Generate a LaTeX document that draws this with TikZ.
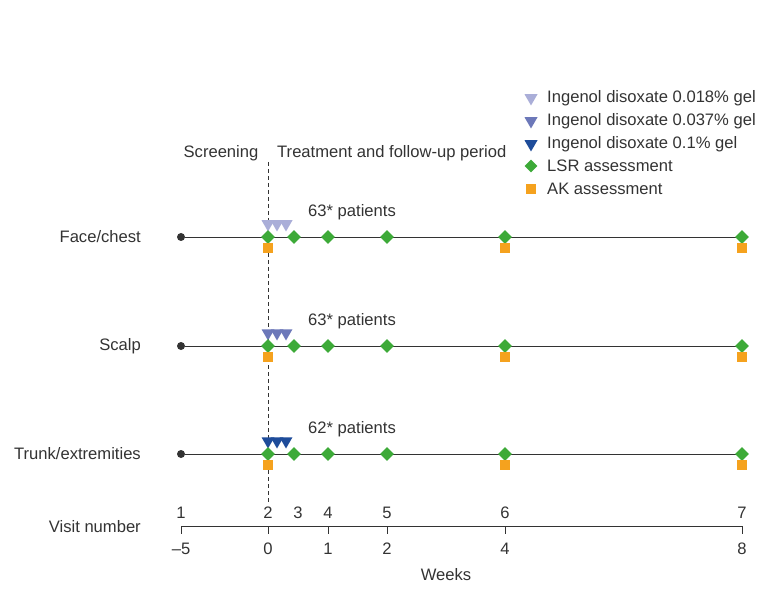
\documentclass[tikz,border=0pt]{standalone}
\usepackage{fontspec}
\setmainfont{Liberation Sans}
\usetikzlibrary{shapes.geometric}
\definecolor{tlight}{HTML}{AAAED8}
\definecolor{tmed}{HTML}{6C78B9}
\definecolor{tdark}{HTML}{1E4C9A}
\definecolor{lsr}{HTML}{3DAA38}
\definecolor{ak}{HTML}{F5A21E}
\definecolor{ln}{HTML}{333333}
\begin{document}
\begin{tikzpicture}[x=1pt,y=-1pt,
  txt/.style={font=\fontsize{16.6}{19}\selectfont, text=ln, inner sep=0pt},
  tri/.style={regular polygon, regular polygon sides=3, shape border rotate=180, minimum size=15pt, inner sep=0pt},
  dia/.style={diamond, fill=lsr, minimum size=14pt, inner sep=0pt},
  sq/.style={rectangle, fill=ak, minimum size=10pt, inner sep=0pt},
  dot/.style={circle, fill=ln, minimum size=8pt, inner sep=0pt},
  rowline/.style={draw=ln, line width=0.8pt},
  axisline/.style={draw=ln, line width=0.8pt}]
\useasboundingbox (0,0) rectangle (767,601);
% legend
\node[tri, fill=tlight] (l1) at (531,98) {};
\node[tri, fill=tmed] (l2) at (531,121) {};
\node[tri, fill=tdark] (l3) at (531,144) {};
\node[dia, minimum size=13pt] (l4) at (531,166) {};
\node[sq] (l5) at (531,189) {};
\node[txt, anchor=west] (t1) at (547,98) {Ingenol disoxate 0.018\% gel};
\node[txt, anchor=west] (t2) at (547,121) {Ingenol disoxate 0.037\% gel};
\node[txt, anchor=west] (t3) at (547,144) {Ingenol disoxate 0.1\% gel};
\node[txt, anchor=west] (t4) at (547,166) {LSR assessment};
\node[txt, anchor=west] (t5) at (547,189) {AK assessment};
% headings
\node[txt] (scr) at (221,153) {Screening};
\node[txt, anchor=west] (trt) at (277,153) {Treatment and follow-up period};
% dashed line
\coordinate (dtop) at (268,162);
\coordinate (dbot) at (268,504);
\draw[ln, dashed, dash pattern=on 4pt off 3pt, line width=0.7pt] (dtop) -- (dbot);
% rows
\foreach \y/\lab/\col/\n/\nm in {237/Face\slash chest/tlight/63/a, 346/Scalp/tmed/63/b, 454/Trunk\slash extremities/tdark/62/c}{
  \node[dot] (\nm s) at (181,\y) {};
  \coordinate (\nm e) at (742,\y);
  \draw[rowline] (\nm s) -- (\nm e);
  \node[txt, anchor=east] (\nm lab) at (141,\y) {\lab};
  \node[txt] (\nm pat) at (352,\y-25) {\n* patients};
  \node[tri, fill=\col] (\nm t1) at (268,\y-13) {};
  \node[tri, fill=\col] (\nm t2) at (277,\y-13) {};
  \node[tri, fill=\col] (\nm t3) at (286,\y-13) {};
  \foreach \x [count=\i] in {268,294,328,387,505,742}{
    \node[dia] (\nm d\i) at (\x,\y) {};
  }
  \foreach \x [count=\i] in {268,505,742}{
    \node[sq] (\nm q\i) at (\x,\y+11) {};
  }
}
% axis
\coordinate (ax1) at (181,526);
\coordinate (ax2) at (742,526);
\draw[axisline] (ax1) -- (ax2);
\foreach \x/\v/\w in {181/1/--5, 268/2/0, 328/4/1, 387/5/2, 505/6/4, 742/7/8}{
  \draw[axisline] (\x,526) -- (\x,534);
  \node[txt] at (\x,513) {\v};
  \node[txt] at (\x,549) {\w};
}
\node[txt] (v3) at (298,513) {3};
\node[txt, anchor=east] (vn) at (141,527) {Visit number};
\node[txt] (wk) at (446,575) {Weeks};
\end{tikzpicture}
\end{document}
